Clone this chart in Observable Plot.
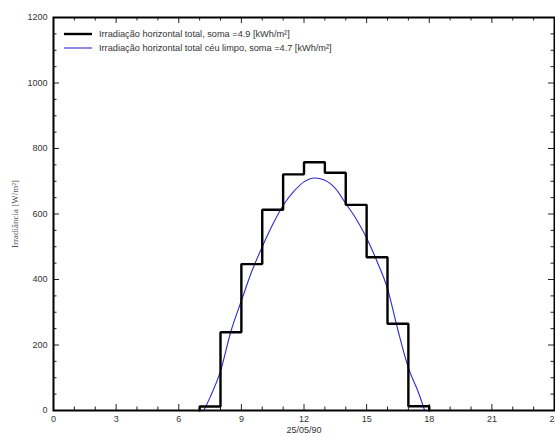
<!DOCTYPE html>
<html><head><meta charset="utf-8">
<script src="https://cdn.jsdelivr.net/npm/d3@7"></script>
<script src="https://cdn.jsdelivr.net/npm/@observablehq/plot@0.6"></script>
<style>body{margin:0;background:#fff} svg{display:block}</style>
</head><body><div id="chart"></div>
<script>
// Measured hourly global horizontal irradiance (step), hour start -> value
const hours = [7, 8, 9, 10, 11, 12, 13, 14, 15, 16, 17];
const measured = [12, 239, 447, 613, 721, 758, 726, 628, 468, 265, 13];
// Clear-sky curve
const clearHours = [7.2, 7.5, 8, 8.5, 9, 9.5, 10, 10.5, 11, 11.5, 12, 12.5, 13, 13.5, 14, 14.5, 15, 15.5, 16, 16.5, 17, 17.5, 17.78];
const clearSky =   [0,   40,  120, 242, 335, 425, 500, 568, 626, 668, 698, 710, 703, 678, 632, 585, 527, 455, 372, 245, 130, 52,  0];
const xMajor = [0, 3, 6, 9, 12, 15, 18, 21, 24];
const xMinor = [1, 2, 4, 5, 7, 8, 10, 11, 13, 14, 16, 17, 19, 20, 22, 23];
const yMajor = [0, 200, 400, 600, 800, 1000, 1200];
const yMinor = [50, 100, 150, 250, 300, 350, 450, 500, 550, 650, 700, 750, 850, 900, 950, 1050, 1100, 1150];
const legendLabels = [
  "Irradiação horizontal total, soma =4.9 [kWh/m²]",
  "Irradiação horizontal total céu limpo, soma =4.7 [kWh/m²]"
];
const xLabel = "25/05/90";
const yLabel = "Irradiância [W/m²]";

const W = 555, H = 436, mL = 53, mR = 1, mT = 17, mB = 26;
const fw = W - mL - mR, fh = H - mT - mB;
const MAJ = 6, MIN = 3.5;

const stepData = [{x: hours[0], y: 0}]
  .concat(hours.map((h, i) => ({x: h, y: measured[i]})))
  .concat([{x: hours[hours.length - 1] + 1, y: 0}]);
const clearData = clearHours.map((h, i) => ({x: h, y: clearSky[i]}));

const chart = Plot.plot({
  width: W, height: H,
  marginLeft: mL, marginRight: mR, marginTop: mT, marginBottom: mB,
  style: {fontFamily: "'Liberation Sans', Arial, sans-serif", fontSize: "9px", color: "#333", background: "#fff"},
  x: {domain: [0, 24]},
  y: {domain: [0, 1200]},
  marks: [
    // ticks pointing inward on all four sides
    Plot.ruleX(xMajor, {x: d => d, insetTop: fh - MAJ, stroke: "#222"}),
    Plot.ruleX(xMinor, {x: d => d, insetTop: fh - MIN, stroke: "#222"}),
    Plot.ruleX(xMajor, {x: d => d, insetBottom: fh - MAJ, stroke: "#222"}),
    Plot.ruleX(xMinor, {x: d => d, insetBottom: fh - MIN, stroke: "#222"}),
    Plot.ruleY(yMajor, {y: d => d, insetRight: fw - MAJ, stroke: "#222"}),
    Plot.ruleY(yMinor, {y: d => d, insetRight: fw - MIN, stroke: "#222"}),
    Plot.ruleY(yMajor, {y: d => d, insetLeft: fw - MAJ, stroke: "#222"}),
    Plot.ruleY(yMinor, {y: d => d, insetLeft: fw - MIN, stroke: "#222"}),
    Plot.axisX({ticks: xMajor, tickSize: 0, tickPadding: 5, label: null, tickFormat: d => String(d), fill: "#333"}),
    Plot.axisY({ticks: yMajor, tickSize: 0, tickPadding: 6, label: null, tickFormat: d => String(d), fill: "#333"}),
    Plot.line(clearData, {x: "x", y: "y", curve: "monotone-x", stroke: "#2b2bd2", strokeWidth: 1.1}),
    Plot.line(stepData, {x: "x", y: "y", curve: "step-after", stroke: "#000", strokeWidth: 2.4, strokeLinejoin: "miter"}),
    Plot.frame({stroke: "#000", strokeWidth: 2}),
    Plot.text([xLabel], {text: d => d, frameAnchor: "bottom", dy: 22, fontSize: 9, fill: "#333"}),
    Plot.text([yLabel], {text: d => d, frameAnchor: "left", textAnchor: "middle", dx: -38, rotate: -90, fontSize: 9, fill: "#555", fontFamily: "'Liberation Serif', 'DejaVu Serif', serif"})
  ]
});
document.getElementById("chart").appendChild(chart);

// Legend inside the plot area (top-left)
const svg = d3.select(chart);
const lg = svg.append("g").attr("font-family", "'Liberation Sans', Arial, sans-serif").attr("font-size", 9.2).attr("fill", "#333").attr("text-anchor", "start");
const legendStyles = [{stroke: "#000", width: 2.4}, {stroke: "#2b2bd2", width: 1.1}];
legendLabels.forEach((t, i) => {
  const y = 34 + i * 14;
  lg.append("line").attr("x1", 64).attr("x2", 92).attr("y1", y).attr("y2", y)
    .attr("stroke", legendStyles[i].stroke).attr("stroke-width", legendStyles[i].width);
  lg.append("text").attr("x", 99).attr("y", y).attr("dy", "0.35em").attr("text-anchor", "start").text(t);
});
</script>
</body></html>
